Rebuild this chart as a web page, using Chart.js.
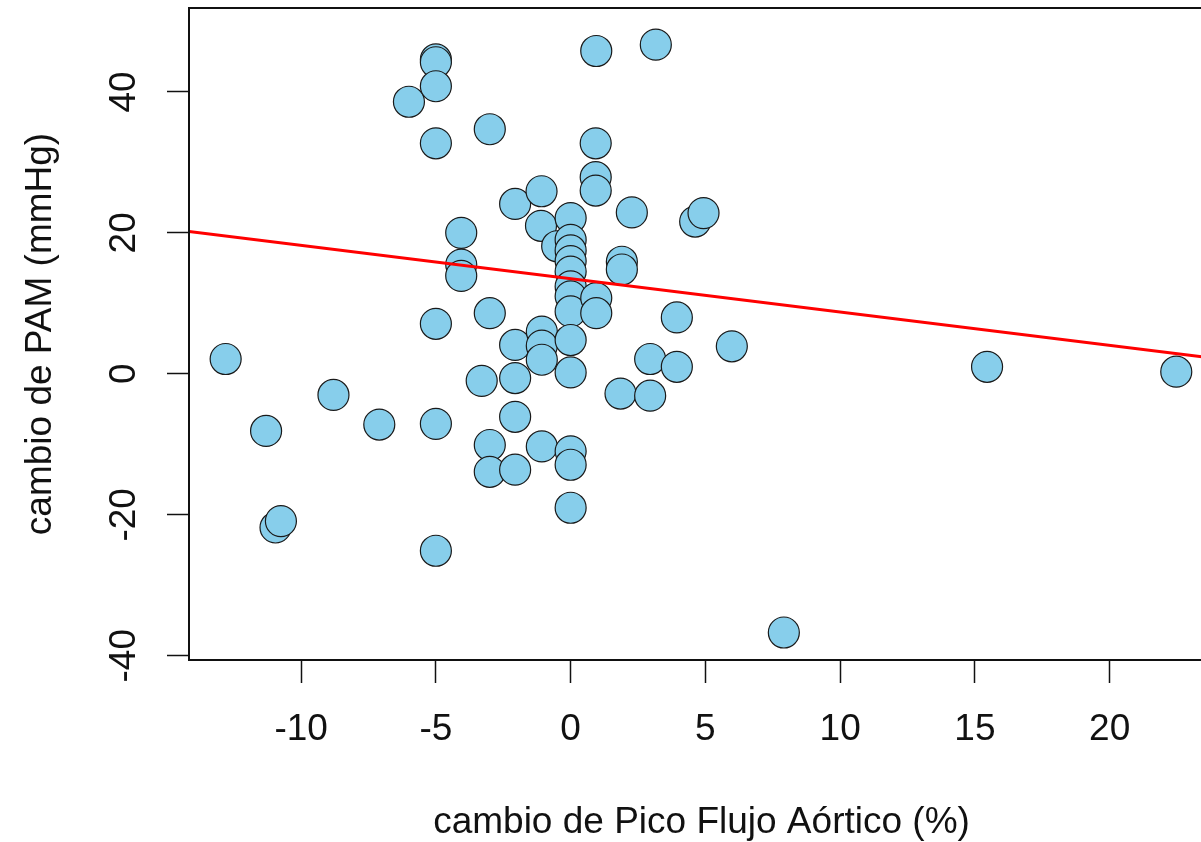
<!DOCTYPE html>
<html>
<head>
<meta charset="utf-8">
<script src="https://cdn.jsdelivr.net/npm/chart.js@4.4.1/dist/chart.umd.min.js"></script>
<style>
  html, body { margin: 0; padding: 0; background: #fff; overflow: hidden; }
</style>
</head>
<body>
<canvas id="myChart" width="1220" height="842"></canvas>
<script>
const ctx = document.getElementById('myChart');

// cambio de Pico Flujo Aórtico (%)
const flowChange = [
  -12.8, -11.3, -10.95, -10.75, -8.8, -7.1, -6.0,
  -5.0, -5.0, -5.0, -5.0, -5.0, -5.0, -5.0,
  -4.06, -4.06, -4.06,
  -3.0, -3.0, -3.3, -3.0, -3.0,
  -2.06, -2.06, -2.06, -2.06, -2.06,
  -1.08, -1.1, -1.07, -1.07, -1.07, -1.07, -0.5,
  0, 0, 0, 0, 0, 0, 0, 0, 0, 0, 0, 0, 0,
  0.95, 0.93, 0.93, 0.93, 0.95, 0.95,
  1.9, 1.9, 1.85, 2.27, 2.95, 2.95, 3.16,
  3.94, 3.94, 4.62, 4.93, 5.98, 7.91, 15.45, 22.47
]

// cambio de PAM (mmHg)
const mapChange = [
  2.1, -8.1, -21.8, -20.9, -3.0, -7.2, 38.6,
  44.6, 44.2, 40.8, 32.7, 7.1, -7.1, -25.1,
  20.0, 15.5, 13.9,
  34.7, 8.6, -1.0, -10.1, -13.9,
  24.1, 4.1, -0.6, -6.1, -13.6,
  25.9, 21.0, 6.0, 4.0, 2.0, -10.3, 18.1,
  22.1, 19.0, 17.5, 16.0, 14.5, 12.4, 11.0, 8.85, 4.8, 0.2, -11.0, -12.9, -19.0,
  45.8, 32.7, 27.9, 26.0, 10.75, 8.6,
  15.9, 14.8, -2.8, 22.9, 2.1, -3.1, 46.7,
  8.0, 1.0, 21.6, 22.8, 3.9, -36.7, 1.0, 0.3
]

// regression line end points
const fitX = [-14.16, 23.87]
const fitY = [20.2, 2.2]

const xTicks = [-10, -5, 0, 5, 10, 15, 20]
const yTicks = [-40, -20, 0, 20, 40]

const fontFamily = '"Liberation Sans", Arial, sans-serif'

// frame around the plotting region
const boxPlugin = {
  id: 'box',
  afterDraw(chart) {
    const { ctx, chartArea: a } = chart
    ctx.save()
    ctx.strokeStyle = '#111'
    ctx.lineWidth = 2
    ctx.strokeRect(a.left, a.top, a.right - a.left, a.bottom - a.top)
    ctx.restore()
  }
}

function buildPoints() {
  return flowChange.map((x, i) => ({ x: x, y: mapChange[i] }))
}

function showChart() {
  new Chart(ctx, {
    type: 'scatter',
    data: {
      datasets: [
        {
          type: 'line',
          data: fitX.map((x, i) => ({ x: x, y: fitY[i] })),
          borderColor: '#ff0000',
          borderWidth: 3,
          pointRadius: 0,
          fill: false,
          order: 0
        },
        {
          data: buildPoints(),
          backgroundColor: '#87ceeb',
          borderColor: '#1a1a1a',
          borderWidth: 1.2,
          pointRadius: 15.5,
          order: 1
        }
      ]
    },
    options: {
      responsive: false,
      animation: false,
      layout: { autoPadding: false, padding: { top: 8, right: 6, left: 0, bottom: 0 } },
      plugins: {
        legend: { display: false },
        tooltip: { enabled: false }
      },
      scales: {
        x: {
          type: 'linear',
          min: -14.16,
          max: 23.87,
          afterBuildTicks: axis => { axis.ticks = xTicks.map(v => ({ value: v })) },
          afterFit: scale => {
            scale.height = 182
            scale.paddingLeft = 0
            scale.paddingRight = 0
          },
          grid: {
            drawOnChartArea: false,
            drawTicks: true,
            tickLength: 23,
            tickColor: '#111',
            tickWidth: 1.5
          },
          border: { display: false },
          ticks: {
            color: '#111',
            padding: 25,
            maxRotation: 0,
            font: { family: fontFamily, size: 37 }
          },
          title: {
            display: true,
            text: 'cambio de Pico Flujo Aórtico (%)',
            color: '#111',
            font: { family: fontFamily, size: 37, lineHeight: 1 },
            padding: { top: 0, bottom: 1 }
          }
        },
        y: {
          type: 'linear',
          min: -40.6,
          max: 51.9,
          afterBuildTicks: axis => { axis.ticks = yTicks.map(v => ({ value: v })) },
          afterFit: scale => {
            scale.width = 189
            scale.paddingTop = 0
            scale.paddingBottom = 0
          },
          grid: {
            drawOnChartArea: false,
            drawTicks: true,
            tickLength: 22,
            tickColor: '#111',
            tickWidth: 1.5
          },
          border: { display: false },
          ticks: {
            color: '#111',
            padding: 15,
            minRotation: 90,
            maxRotation: 90,
            crossAlign: 'center',
            font: { family: fontFamily, size: 37 }
          },
          title: {
            display: true,
            text: 'cambio de PAM (mmHg)',
            color: '#111',
            font: { family: fontFamily, size: 37, lineHeight: 1 },
            padding: { top: 22, bottom: 0 }
          }
        }
      }
    },
    plugins: [boxPlugin]
  })
}

window.addEventListener('load', () => {
  showChart()
})
</script>
</body>
</html>
